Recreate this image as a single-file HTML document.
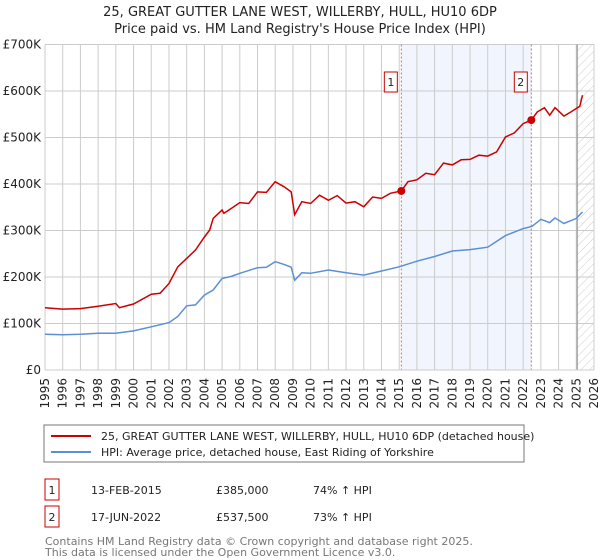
<!DOCTYPE html>
<html><head><meta charset="utf-8"><style>
body{margin:0;background:#fff;font-family:"DejaVu Sans","Liberation Sans",sans-serif;}
#wrap{position:relative;width:600px;height:560px;overflow:hidden;}
svg text{font-family:"DejaVu Sans","Liberation Sans",sans-serif;}
</style></head><body><div id="wrap">
<svg id="c" width="600" height="560">
<text x="300" y="16" text-anchor="middle" font-size="13" fill="#222">25, GREAT GUTTER LANE WEST, WILLERBY, HULL, HU10 6DP</text>
<text x="300" y="33" text-anchor="middle" font-size="13" fill="#222">Price paid vs. HM Land Registry's House Price Index (HPI)</text>
<defs><pattern id="hatch" width="6" height="6" patternUnits="userSpaceOnUse" patternTransform="rotate(45)"><line x1="0" y1="0" x2="0" y2="6" stroke="#ccc" stroke-width="1"/></pattern></defs>
<g id="plot"></g>
<rect x="44" y="425" width="480" height="37" fill="#fff" stroke="#777"/>
<line x1="51" y1="436" x2="91" y2="436" stroke="#cc0000" stroke-width="2"/>
<text x="101" y="440" font-size="11" fill="#222">25, GREAT GUTTER LANE WEST, WILLERBY, HULL, HU10 6DP (detached house)</text>
<line x1="51" y1="452" x2="91" y2="452" stroke="#5b8fd6" stroke-width="2"/>
<text x="101" y="456" font-size="11" fill="#222">HPI: Average price, detached house, East Riding of Yorkshire</text>
<g>
<rect x="45" y="479" width="14" height="21" fill="#fff" stroke="#cc0000"/><text x="52" y="494" text-anchor="middle" font-size="11" fill="#222">1</text>
<text x="91" y="494" font-size="11" fill="#222">13-FEB-2015</text><text x="216" y="494" font-size="11" fill="#222">£385,000</text><text x="313" y="494" font-size="11" fill="#222">74% ↑ HPI</text></g>
<g>
<rect x="45" y="506" width="14" height="21" fill="#fff" stroke="#cc0000"/><text x="52" y="521" text-anchor="middle" font-size="11" fill="#222">2</text>
<text x="91" y="521" font-size="11" fill="#222">17-JUN-2022</text><text x="216" y="521" font-size="11" fill="#222">£537,500</text><text x="313" y="521" font-size="11" fill="#222">73% ↑ HPI</text></g>
<text x="45" y="545" font-size="11" fill="#777">Contains HM Land Registry data © Crown copyright and database right 2025.</text>
<text x="45" y="556" font-size="11" fill="#777">This data is licensed under the Open Government Licence v3.0.</text>
</svg></div>
<script>
const yTicks=[0,100000,200000,300000,400000,500000,600000,700000];
const yTickLabels=["£0","£100K","£200K","£300K","£400K","£500K","£600K","£700K"];
const xYears=[1995,1996,1997,1998,1999,2000,2001,2002,2003,2004,2005,2006,2007,2008,2009,2010,2011,2012,2013,2014,2015,2016,2017,2018,2019,2020,2021,2022,2023,2024,2025,2026];
const hpiT=[1995,1996,1997,1998,1999,2000,2001,2002,2002.5,2003,2003.5,2004,2004.5,2005,2005.5,2006,2007,2007.5,2008,2008.5,2008.9,2009.1,2009.5,2010,2011,2012,2013,2014,2015,2016,2017,2018,2019,2020,2021,2022,2022.5,2023,2023.5,2023.8,2024.3,2025,2025.35];
const hpiV=[77,76,77,79,79,84,93,102,115,138,140,161,172,197,201,208,220,221,233,227,221,193,209,208,215,209,204,213,222,234,244,256,259,264,289,304,309,324,317,327,315,326,340];
const priceT=[1995,1996,1997,1998,1999,1999.2,2000,2001,2001.5,2002,2002.5,2003,2003.5,2004,2004.3,2004.5,2005,2005.1,2005.5,2006,2006.5,2007,2007.5,2008,2008.5,2008.9,2009.1,2009.5,2010,2010.5,2011,2011.5,2012,2012.5,2013,2013.5,2014,2014.5,2015.12,2015.5,2016,2016.5,2017,2017.5,2018,2018.5,2019,2019.5,2020,2020.5,2021,2021.5,2022,2022.46,2022.8,2023.2,2023.5,2023.8,2024.3,2024.7,2025.2,2025.35];
const priceV=[134,131,132,137,143,134,142,163,165,186,222,240,258,286,301,326,344,337,347,360,358,383,382,405,394,383,334,362,358,376,365,375,359,362,351,372,369,380,385,405,409,423,420,445,441,452,453,462,460,469,501,510,530,537.5,555,564,548,564,546,555,567,591];
const saleT=[2015.12,2022.46];
const saleV=[385,537.5];
const saleLabels=["1","2"];
const X0=45,X1=594,Y0=370,Y1=44.5;
const xs=y=>X0+(y-1995)/(2026-1995)*(X1-X0);
const ys=v=>Y0-v/700000*(Y0-Y1);
const NS="http://www.w3.org/2000/svg";
const g=document.getElementById('plot');
function mk(t,a){const e=document.createElementNS(NS,t);for(const k in a)e.setAttribute(k,a[k]);g.appendChild(e);return e;}
let e=mk('rect',{x:xs(saleT[0]),y:Y1,width:xs(saleT[1])-xs(saleT[0]),height:Y0-Y1,fill:'#eef3fc',opacity:0.8});


e=mk('rect',{x:xs(2025.05),y:Y1,width:X1-xs(2025.05),height:Y0-Y1,fill:'url(#hatch)'});


xYears.forEach(yr=>{const l=mk('line',{x1:xs(yr),x2:xs(yr),y1:Y1,y2:Y0,stroke:'#cccccc','stroke-width':1});


const t=mk('text',{x:0,y:0,'font-size':12,fill:'#222','text-anchor':'end',transform:`translate(${xs(yr)+4},${Y0+8}) rotate(-90)`});t.textContent=yr;

});
yTicks.forEach((v,i)=>{const l=mk('line',{x1:X0,x2:X1,y1:ys(v),y2:ys(v),stroke:'#cccccc','stroke-width':1});


const t=mk('text',{x:X0-4,y:ys(v)+4,'font-size':12,fill:'#222','text-anchor':'end'});t.textContent=yTickLabels[i];

});
e=mk('line',{x1:xs(2025.05),x2:xs(2025.05),y1:Y1,y2:Y0,stroke:'#888','stroke-width':1});


saleT.forEach((s,i)=>{const l=mk('line',{x1:xs(s),x2:xs(s),y1:Y1,y2:Y0,stroke:'#ee6666','stroke-width':1,'stroke-dasharray':'2,2'});


const r=mk('rect',{x:xs(s)-17,y:72,width:13,height:20,fill:'#fff',stroke:'#cc0000'});


const t=mk('text',{x:xs(s)-10.5,y:86,'font-size':11,fill:'#222','text-anchor':'middle'});t.textContent=saleLabels[i];

});
e=mk('path',{d:hpiT.map((t,i)=>(i?'L':'M')+xs(t).toFixed(1)+','+ys(hpiV[i]*1000).toFixed(1)).join(''),fill:'none',stroke:'#5b8fd6','stroke-width':1.5});


e=mk('path',{d:priceT.map((t,i)=>(i?'L':'M')+xs(t).toFixed(1)+','+ys(priceV[i]*1000).toFixed(1)).join(''),fill:'none',stroke:'#cc0000','stroke-width':1.5});


saleT.forEach((s,i)=>{const c=mk('circle',{cx:xs(s),cy:ys(saleV[i]*1000),r:4,fill:'#cc0000'});

});
e=mk('line',{x1:X0,x2:X1,y1:Y0,y2:Y0,stroke:'#cccccc'});


</script></body></html>
